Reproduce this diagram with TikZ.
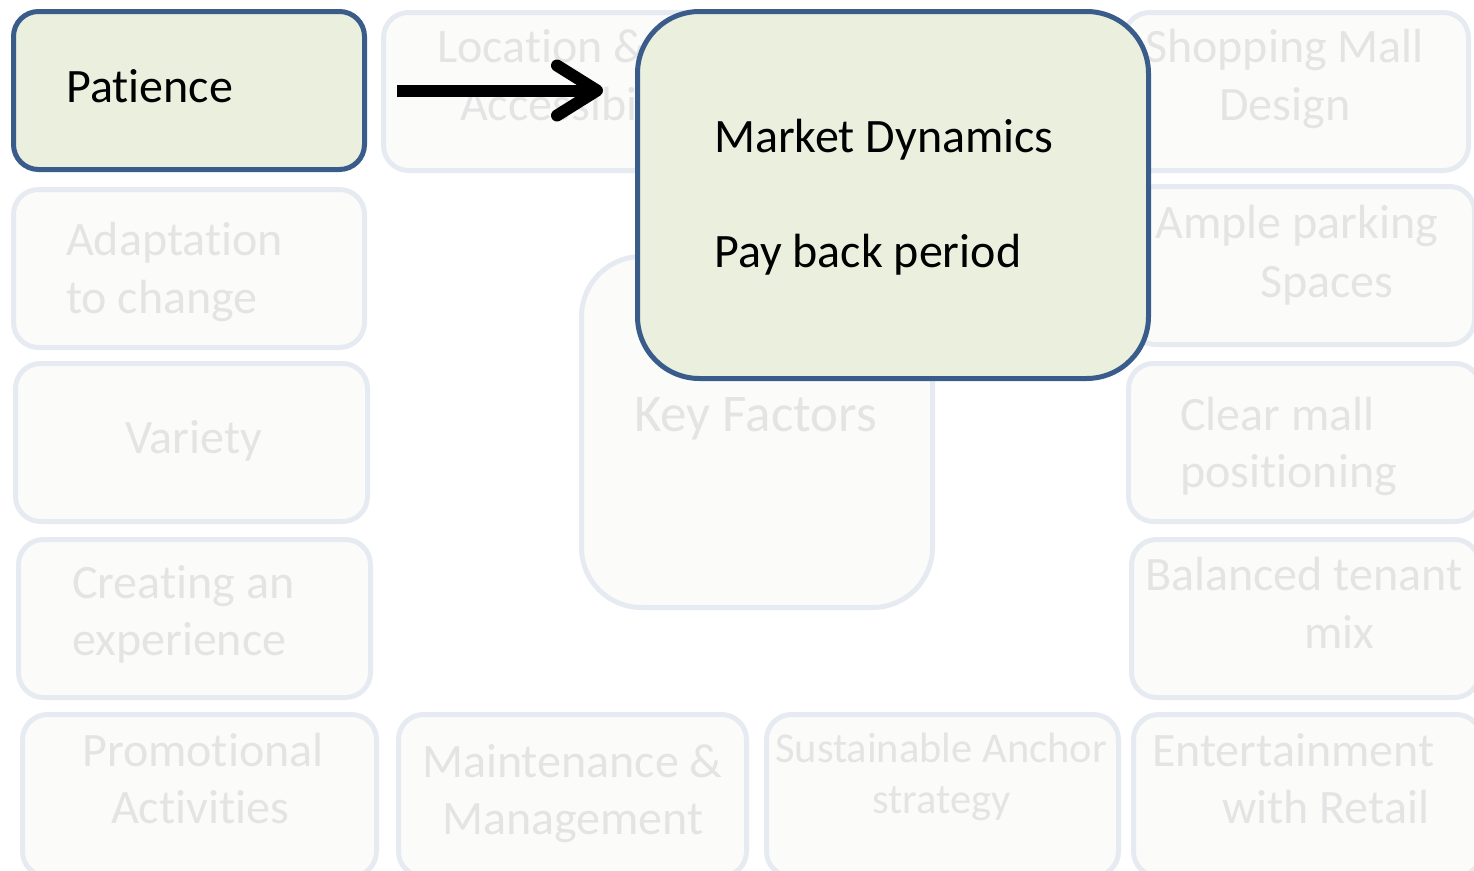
\documentclass[tikz,border=0pt]{standalone}
\usepackage{fontspec}
\setmainfont{Carlito}[RawFeature={-liga;-clig;-calt;-dlig}]
\usetikzlibrary{arrows.meta}
\definecolor{gfill}{HTML}{EAEFDE}
\definecolor{gborder}{HTML}{3A5C8B}
\definecolor{ffill}{HTML}{FBFBFA}
\definecolor{fborder}{HTML}{E6EBF2}
\definecolor{ftext}{HTML}{E4E4E4}
\tikzset{
  fbox/.style={draw=fborder, fill=ffill, line width=5pt, rounded corners=25pt, inner sep=0pt, anchor=north west},
  gbox/.style={draw=gborder, fill=gfill, line width=5pt, rounded corners=25pt, inner sep=0pt, anchor=north west},
  ft/.style={text=ftext, inner sep=0pt, anchor=base west, font=\fontsize{48}{56}\selectfont},
  bt/.style={text=black, inner sep=0pt, anchor=base west, font=\fontsize{48}{56}\selectfont},
  bigarrow/.style={line width=12pt, -{Straight Barb[length=40pt, width=50pt, line cap=round, line join=round]}}
}
\begin{document}
\begin{tikzpicture}[x=1pt,y=-1pt]
\useasboundingbox (0,0) rectangle (1474,870);
% faint boxes
\node[fbox, minimum width=351pt, minimum height=158pt] (loc) at (381,10) {};
\node[fbox, minimum width=344pt, minimum height=158pt] (shop) at (1122,10) {};
\node[fbox, minimum width=351pt, minimum height=158pt] (adapt) at (11,187) {};
\node[fbox, minimum width=344pt, minimum height=158pt] (ample) at (1128,184) {};
\node[fbox, minimum width=352pt, minimum height=158pt] (variety) at (13,361) {};
\node[fbox, minimum width=352pt, minimum height=158pt] (clear) at (1126,361) {};
\node[fbox, minimum width=352pt, minimum height=158pt] (creating) at (16,537) {};
\node[fbox, minimum width=348pt, minimum height=158pt] (balanced) at (1129,537) {};
\node[fbox, minimum width=354pt, minimum height=162pt] (promo) at (20,712) {};
\node[fbox, minimum width=348pt, minimum height=162pt] (maint) at (396,712) {};
\node[fbox, minimum width=352pt, minimum height=162pt] (sustain) at (764,712) {};
\node[fbox, minimum width=348pt, minimum height=162pt] (entert) at (1131,712) {};
\node[fbox, rounded corners=60pt, minimum width=351pt, minimum height=351pt] (keyf) at (579,254) {};
% faint texts
\node[ft] (locA) at (437,62) {Location \&};
\node[ft] (locB) at (460,120) {Accessibility};
\node[ft] (shopA) at (1145,62) {Shopping Mall};
\node[ft] (shopB) at (1219,120) {Design};
\node[ft] (adaptA) at (66,255) {Adaptation};
\node[ft] (adaptB) at (66,313) {to change};
\node[ft] (ampleA) at (1155,238) {Ample parking};
\node[ft] (ampleB) at (1260,297) {Spaces};
\node[ft] (varietyA) at (125,453) {Variety};
\node[ft, font=\fontsize{53}{60}\selectfont] (keyfA) at (634,431) {Key Factors};
\node[ft] (clearA) at (1180,430) {Clear mall};
\node[ft] (clearB) at (1180,487) {positioning};
\node[ft] (creatingA) at (72,598) {Creating an};
\node[ft] (creatingB) at (72,655) {experience};
\node[ft] (balancedA) at (1145,590) {Balanced tenant};
\node[ft] (balancedB) at (1304,648) {mix};
\node[ft] (promoA) at (82,766) {Promotional};
\node[ft] (promoB) at (111,823) {Activities};
\node[ft] (maintA) at (422,777) {Maintenance \&};
\node[ft] (maintB) at (442,834) {Management};
\node[ft, font=\fontsize{42.5}{50}\selectfont] (sustainA) at (775,762) {Sustainable Anchor};
\node[ft, font=\fontsize{42.5}{50}\selectfont] (sustainB) at (872,813) {strategy};
\node[ft] (entertA) at (1152,766) {Entertainment};
\node[ft] (entertB) at (1222,823) {with Retail};
% highlighted boxes
\node[gbox, minimum width=351pt, minimum height=158pt] (patience) at (11,9) {};
\node[bt] (patienceT) at (66,102) {Patience};
\node[gbox, rounded corners=62pt, minimum width=511pt, minimum height=367pt] (market) at (635,9) {};
\node[bt] (marketA) at (714,152) {Market Dynamics};
\node[bt] (marketB) at (714,267) {Pay back period};
% arrow
\coordinate (arrS) at ([xshift=30pt]patience.east);
\coordinate (arrE) at ([xshift=-32pt]patience.east -| market.west);
\draw[bigarrow] (arrS) -- (arrE);
\end{tikzpicture}
\end{document}
